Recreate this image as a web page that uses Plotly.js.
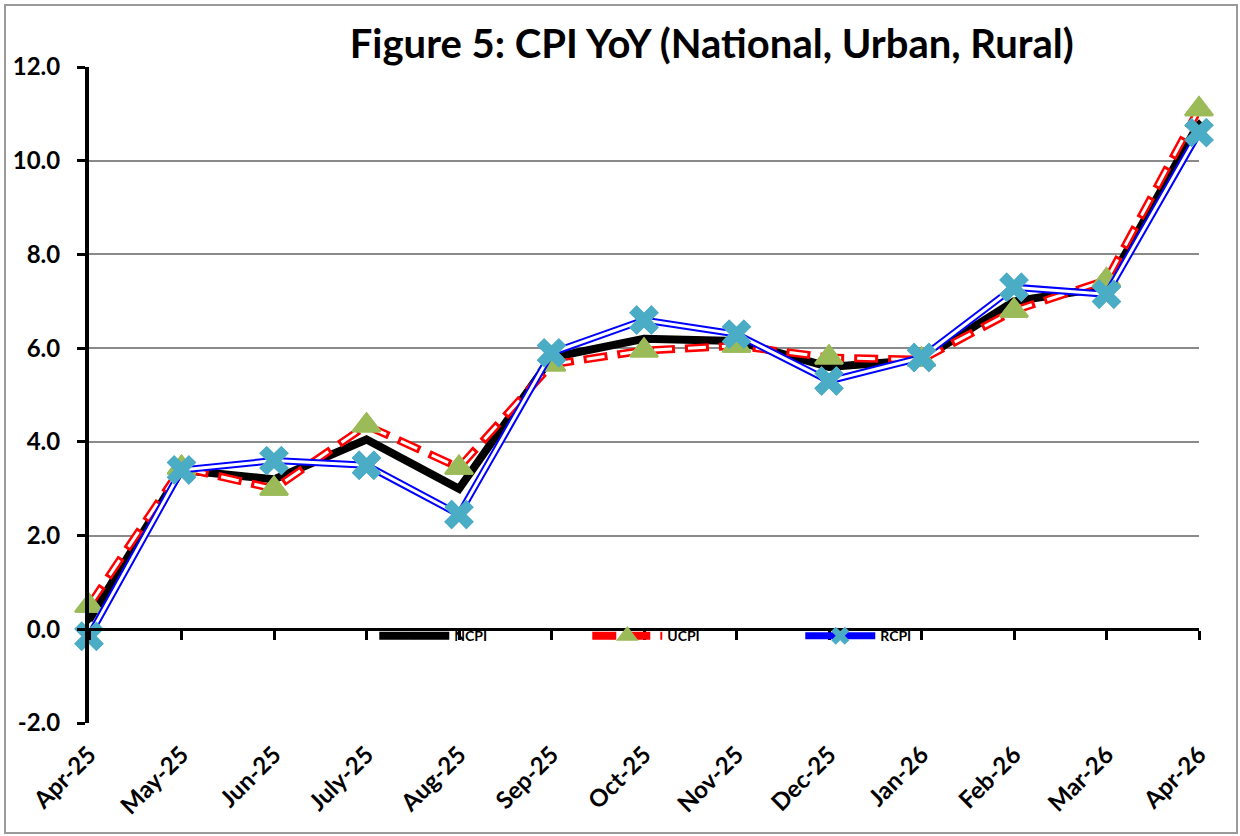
<!DOCTYPE html>
<html>
<head>
<meta charset="utf-8">
<script src="https://cdn.plot.ly/plotly-3.0.1.min.js"></script>
<style>
  html, body { margin: 0; padding: 0; background: #fff; }
  #wrap { position: relative; width: 1240px; height: 836px; }
  #chart { width: 1240px; height: 836px; }
  #frame { position: absolute; left: 4px; top: 4px; width: 1230px; height: 826px; border: 2px solid #9a9a9a; pointer-events: none; }
</style>
</head>
<body>
<div id="wrap"><div id="chart"></div><div id="frame"></div></div>
<script>
const categories = ['Apr-25','May-25','Jun-25','July-25','Aug-25','Sep-25','Oct-25','Nov-25','Dec-25','Jan-26','Feb-26','Mar-26','Apr-26'];
const ncpi = [0.2, 3.4, 3.2, 4.05, 3.0, 5.8, 6.2, 6.15, 5.6, 5.75, 7.0, 7.3, 10.8];
const ucpi = [0.5, 3.45, 3.0, 4.35, 3.45, 5.65, 5.95, 6.05, 5.8, 5.75, 6.8, 7.45, 11.1];
const rcpi = [-0.15, 3.4, 3.6, 3.5, 2.45, 5.9, 6.6, 6.3, 5.3, 5.8, 7.3, 7.15, 10.6];
const yTicks = [-2, 0, 2, 4, 6, 8, 10, 12];
const yTickText = ['-2.0', '0.0', '2.0', '4.0', '6.0', '8.0', '10.0', '12.0'];
const titleText = 'Figure 5: CPI YoY (National, Urban, Rural)';

const FONT = 'Lato, "Open Sans", "DejaVu Sans", sans-serif';

const traces = [
  { // dummy for label axis
    x: categories, y: categories.map(() => null), xaxis: 'x2', yaxis: 'y',
    mode: 'lines', showlegend: false, hoverinfo: 'skip', line: {width: 0}
  },
  {
    name: 'NCPI', x: categories, y: ncpi, mode: 'lines+markers',
    line: {color: '#000000', width: 8},
    marker: {symbol: 'diamond', size: 6, color: '#000000'},
    cliponaxis: false
  },
  {
    name: 'UCPI', x: categories, y: ucpi, mode: 'lines+markers',
    line: {color: '#ff0000', width: 8, dash: '24px,10px'},
    marker: {symbol: 'triangle-up', size: 24, color: '#9bbb59', line: {color: '#9bbb59', width: 2}},
    cliponaxis: false
  },
  {
    name: 'UCPI-inner', x: categories, y: ucpi, mode: 'lines', showlegend: false, hoverinfo: 'skip',
    line: {color: '#ffffff', width: 3, dash: '0px,3px,18px,13px'},
    cliponaxis: false
  },
  {
    name: 'UCPI-markers', x: categories, y: ucpi, mode: 'markers', showlegend: false, hoverinfo: 'skip',
    marker: {symbol: 'triangle-up', size: 24, color: '#9bbb59', line: {color: '#9bbb59', width: 2}},
    cliponaxis: false
  },
  {
    name: 'RCPI', x: categories, y: rcpi, mode: 'lines+markers',
    line: {color: '#0000ff', width: 7},
    marker: {symbol: 'x', size: 26, color: '#4bacc6'},
    cliponaxis: false
  },
  {
    name: 'RCPI-inner', x: categories, y: rcpi, mode: 'lines', showlegend: false, hoverinfo: 'skip',
    line: {color: '#ffffff', width: 3},
    cliponaxis: false
  },
  {
    name: 'RCPI-markers', x: categories, y: rcpi, mode: 'markers', showlegend: false, hoverinfo: 'skip',
    marker: {symbol: 'x', size: 26, color: '#4bacc6'},
    cliponaxis: false
  }
];

const zeroPos = (0 - (-2)) / (12 - (-2));

const layout = {
  width: 1240, height: 836,
  margin: {l: 89, r: 41, t: 67, b: 113, pad: 0, autoexpand: false},
  paper_bgcolor: '#ffffff', plot_bgcolor: '#ffffff',
  font: {family: FONT, color: '#000000', weight: 700},
  title: {
    text: titleText, font: {family: FONT, size: 40, weight: 700, color: '#000000'},
    x: 0.561, xref: 'paper', xanchor: 'center',
    y: 0.947, yref: 'container', yanchor: 'middle', automargin: false
  },
  showlegend: true,
  legend: {
    orientation: 'h', x: 0.257, xanchor: 'left', y: zeroPos + 0.014, yanchor: 'top',
    bgcolor: 'rgba(0,0,0,0)', font: {family: FONT, size: 14, weight: 700, color: '#000'},
    entrywidth: 128, entrywidthmode: 'pixels', itemwidth: 70, traceorder: 'normal'
  },
  xaxis: {
    type: 'category', categoryorder: 'array', categoryarray: categories,
    range: [0, 12], anchor: 'free', position: zeroPos,
    showline: true, linecolor: '#000000', linewidth: 3,
    ticks: 'outside', ticklen: 9, tickwidth: 3, tickcolor: '#000000',
    tickmode: 'array', tickvals: categories,
    showticklabels: false, showgrid: false, zeroline: false, fixedrange: true, automargin: false
  },
  xaxis2: {
    type: 'category', categoryorder: 'array', categoryarray: categories,
    range: [0, 12], overlaying: 'x', anchor: 'y', side: 'bottom',
    showline: false, ticks: '', showgrid: false, zeroline: false,
    tickmode: 'array', tickvals: categories, ticktext: categories,
    tickangle: -45, ticklabelstandoff: 12, automargin: false,
    tickfont: {family: FONT, size: 24, weight: 700, color: '#000000'}, fixedrange: true
  },
  yaxis: {
    range: [-2, 12], anchor: 'x',
    tickmode: 'array', tickvals: yTicks, ticktext: yTickText,
    showline: true, linecolor: '#000000', linewidth: 4,
    ticks: 'outside', ticklen: 8, tickwidth: 3, tickcolor: '#000000',
    showgrid: true, gridcolor: '#8a8a8a', gridwidth: 2,
    zeroline: false, ticklabelstandoff: 12, automargin: false,
    tickfont: {family: FONT, size: 24, weight: 700, color: '#000000'}, fixedrange: true
  }
};

Plotly.newPlot('chart', traces, layout, {displayModeBar: false, staticPlot: true});
</script>
</body>
</html>
